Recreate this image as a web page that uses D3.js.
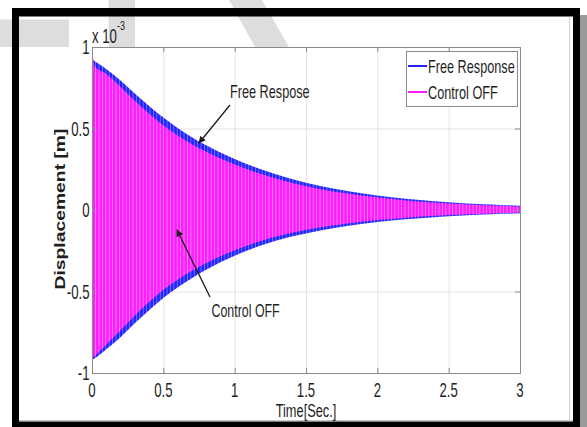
<!DOCTYPE html>
<html><head><meta charset="utf-8">
<script src="https://cdn.jsdelivr.net/npm/d3@7"></script>
<style>html,body{margin:0;padding:0;background:#fff;}svg{display:block;}</style>
</head><body>
<script>
// ---- data (values in units of 1e-3 m) ----
const times      = [0, 0.02, 0.1, 0.2, 0.3, 0.4, 0.5, 0.6, 0.7, 0.8, 0.9, 1.0, 1.2, 1.4, 1.6, 1.8, 2.0, 2.2, 2.4, 2.6, 2.8, 3.0];
const freeUpper  = [0.925, 0.912, 0.865, 0.795, 0.715, 0.638, 0.567, 0.503, 0.447, 0.397, 0.353, 0.313, 0.245, 0.19, 0.148, 0.115, 0.089, 0.069, 0.054, 0.042, 0.033, 0.026];
const freeLower  = [-0.92, -0.91, -0.855, -0.78, -0.695, -0.615, -0.54, -0.476, -0.418, -0.366, -0.32, -0.28, -0.213, -0.163, -0.125, -0.096, -0.074, -0.057, -0.044, -0.034, -0.026, -0.020];
const offUpper   = [1.0, 0.88, 0.835, 0.755, 0.67, 0.59, 0.519, 0.457, 0.404, 0.357, 0.316, 0.279, 0.216, 0.166, 0.128, 0.099, 0.076, 0.058, 0.045, 0.035, 0.027, 0.021];
const offLower   = [-0.91, -0.895, -0.825, -0.738, -0.647, -0.565, -0.49, -0.428, -0.373, -0.325, -0.284, -0.247, -0.185, -0.14, -0.106, -0.081, -0.062, -0.047, -0.036, -0.028, -0.021, -0.016];
const xTicks     = [0, 0.5, 1, 1.5, 2, 2.5, 3];
const xTickLabels= ["0", "0.5", "1", "1.5", "2", "2.5", "3"];
const yTicks     = [-1, -0.5, 0, 0.5, 1];
const yTickLabels= ["-1", "-0.5", "0", "0.5", "1"];
const seriesNames= ["Free Response", "Control OFF"];
const seriesColors=["#2424ff", "#ff1cff"];

const W = 587, H = 427;
const SY = 1.5; // vertical stretch of the original picture's text
const FONT = "'Liberation Sans', Arial, sans-serif";

const svg = d3.select("body").append("svg").attr("width", W).attr("height", H);
const defs = svg.append("defs");

// watermark shapes
svg.append("rect").attr("x",0).attr("y",19.5).attr("width",69).attr("height",27.5).attr("fill","#dddddd");
svg.append("rect").attr("x",108.5).attr("y",0).attr("width",26.5).attr("height",47).attr("fill","#dddddd");
svg.append("polygon").attr("points","229,0 262,0 289,47 255,47").attr("fill","#dddddd");

// frame
svg.append("rect").attr("x",580).attr("y",15).attr("width",7).attr("height",H-15).attr("fill","#9a9a9a");
svg.append("line").attr("x1",569.5).attr("x2",569.5).attr("y1",17).attr("y2",421).attr("stroke","#d0d0d0");
svg.append("line").attr("x1",19).attr("x2",573).attr("y1",420.5).attr("y2",420.5).attr("stroke","#c8c8c8");
svg.append("rect").attr("x",12).attr("y",8).attr("width",7).attr("height",H-8).attr("fill","#000");
svg.append("rect").attr("x",12).attr("y",8).attr("width",568).attr("height",8.5).attr("fill","#000");
svg.append("rect").attr("x",573).attr("y",8).attr("width",7).attr("height",H-8).attr("fill","#000");
svg.append("rect").attr("x",12).attr("y",421.5).attr("width",568).attr("height",6).attr("fill","#000");

const x = d3.scaleLinear().domain([0,3]).range([92,520]);
const y = d3.scaleLinear().domain([-1,1]).range([373,47]);

// grid
const g = svg.append("g");
g.selectAll(".gx").data(xTicks.slice(1,-1)).join("line")
  .attr("x1",d=>x(d)+0.5).attr("x2",d=>x(d)+0.5).attr("y1",y(1)).attr("y2",y(-1))
  .attr("stroke","#e4e4e4");
g.selectAll(".gy").data(yTicks.slice(1,-1)).join("line")
  .attr("y1",d=>y(d)+0.5).attr("y2",d=>y(d)+0.5).attr("x1",x(0)).attr("x2",x(3))
  .attr("stroke","#e4e4e4");

// stripe patterns
function stripe(id, base, light){
  const p = defs.append("pattern").attr("id",id).attr("patternUnits","userSpaceOnUse")
    .attr("width",3.4).attr("height",10);
  p.append("rect").attr("width",3.4).attr("height",10).attr("fill",base);
  p.append("rect").attr("x",0).attr("width",0.8).attr("height",10).attr("fill",light);
}
stripe("pFree", seriesColors[0], "#8080ff");
stripe("pOff", seriesColors[1], "#ff8cff");

const idx = d3.range(times.length);
const area = (up, lo) => d3.area().x(i=>x(times[i])).y0(i=>y(lo[i])).y1(i=>y(up[i])).curve(d3.curveMonotoneX)(idx);
g.append("path").attr("d", area(freeUpper, freeLower)).attr("fill","url(#pFree)");
g.append("path").attr("d", area(offUpper, offLower)).attr("fill","url(#pOff)");

// axes box & ticks
const axCol = "#8a8a8a";
g.append("rect").attr("x",x(0)+0.5).attr("y",y(1)+0.5).attr("width",x(3)-x(0)).attr("height",y(-1)-y(1))
  .attr("fill","none").attr("stroke",axCol);
const tl = 5;
xTicks.forEach(t=>{
  g.append("line").attr("x1",x(t)+0.5).attr("x2",x(t)+0.5).attr("y1",y(-1)).attr("y2",y(-1)-tl).attr("stroke",axCol);
  g.append("line").attr("x1",x(t)+0.5).attr("x2",x(t)+0.5).attr("y1",y(1)).attr("y2",y(1)+tl).attr("stroke",axCol);
});
yTicks.forEach(t=>{
  g.append("line").attr("y1",y(t)+0.5).attr("y2",y(t)+0.5).attr("x1",x(0)).attr("x2",x(0)+tl).attr("stroke",axCol);
  g.append("line").attr("y1",y(t)+0.5).attr("y2",y(t)+0.5).attr("x1",x(3)).attr("x2",x(3)-tl).attr("stroke",axCol);
});

function txt(str, tx, ty, size, anchor, opts={}){
  const t = svg.append("text").attr("transform",`translate(${tx},${ty}) scale(1,${opts.sy||SY})${opts.rot?" rotate("+opts.rot+")":""}`)
    .attr("font-family",FONT).attr("font-size",size).attr("text-anchor",anchor)
    .attr("fill",opts.fill||"#1e1e1e").text(str);
  if(opts.bold) t.attr("font-weight","bold");
  return t;
}
// tick labels
xTicks.forEach((t,i)=> txt(xTickLabels[i], x(t), 397, 13.2, "middle"));
yTicks.forEach((t,i)=> txt(yTickLabels[i], 89.5, y(t)+7, 13.2, "end"));
// exponent
txt("x 10", 92, 43, 13.2, "start");
txt("-3", 117, 30, 9, "start");
// axis labels
txt("Time[Sec.]", 306, 416.5, 12.8, "middle", {sy:1.45});
txt("Displacement [m]", 65, 209, 14, "middle", {bold:true, sy:1.38, rot:-90});

// legend
const lg = svg.append("g");
lg.append("rect").attr("x",406.5).attr("y",51.5).attr("width",111).attr("height",55).attr("fill","#fff").attr("stroke","#8a8a8a");
seriesNames.forEach((n,i)=>{
  const ly = 66 + i*26;
  lg.append("line").attr("x1",408).attr("x2",427).attr("y1",ly).attr("y2",ly).attr("stroke",seriesColors[i]).attr("stroke-width",2);
  txt(n, 428, ly+7, 12.7, "start");
});

// annotations
defs.append("marker").attr("id","ah").attr("viewBox","0 0 10 10").attr("refX",9).attr("refY",5)
  .attr("markerWidth",9).attr("markerHeight",7).attr("orient","auto").attr("markerUnits","userSpaceOnUse")
  .append("path").attr("d","M0,0 L10,5 L0,10 z").attr("fill","#1a1a1a");
svg.append("line").attr("x1",230).attr("y1",105).attr("x2",199).attr("y2",143).attr("stroke","#1a1a1a").attr("stroke-width",1.3).attr("marker-end","url(#ah)");
svg.append("line").attr("x1",210).attr("y1",297).attr("x2",177).attr("y2",230).attr("stroke","#1a1a1a").attr("stroke-width",1.3).attr("marker-end","url(#ah)");
txt("Free Respose", 230, 97.5, 12.7, "start");
txt("Control OFF", 211.5, 316.5, 12.4, "start");
</script>
</body></html>
